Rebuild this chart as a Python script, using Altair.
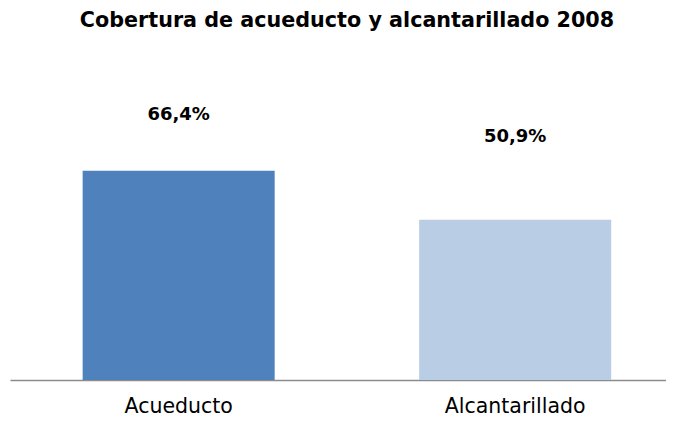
import altair as alt
import pandas as pd

categories = ["Acueducto", "Alcantarillado"]
values = [66.4, 50.9]
labels = ["66,4%", "50,9%"]
colors = ["#4F81BD", "#B9CDE5"]

df = pd.DataFrame({"cat": categories, "val": values, "label": labels})

FONT = "DejaVu Sans"

x = alt.X(
    "cat:N",
    sort=categories,
    scale=alt.Scale(paddingInner=0.4294, paddingOuter=0.1894, align=0.57),
    axis=alt.Axis(
        title=None, labelAngle=0, ticks=False, domainColor="#8C8C8C", domainWidth=1.5,
        labelFont=FONT, labelFontSize=20.5, labelColor="#000000",
        labelBaseline="alphabetic", labelPadding=32,
    ),
)
y = alt.Y("val:Q", scale=alt.Scale(domain=[0, 100]), axis=None)

base = alt.Chart(df)
bars = base.mark_bar().encode(
    x=x, y=y,
    color=alt.Color("cat:N", scale=alt.Scale(domain=categories, range=colors), legend=None),
)
t1 = base.transform_filter(alt.datum.cat == "Acueducto").mark_text(
    dy=-51, baseline="alphabetic", font=FONT, fontWeight="bold", fontSize=18, color="#000000"
).encode(x=x, y=y, text="label:N")
t2 = base.transform_filter(alt.datum.cat == "Alcantarillado").mark_text(
    dy=-78, baseline="alphabetic", font=FONT, fontWeight="bold", fontSize=18, color="#000000"
).encode(x=x, y=y, text="label:N")

chart = alt.layer(bars, t1, t2).properties(
    width=656, height=315,
    title=alt.TitleParams(
        "Cobertura de acueducto y alcantarillado 2008",
        font=FONT, fontSize=20.7, fontWeight="bold", color="#000000",
        offset=33, anchor="middle", dx=9,
    ),
    autosize=alt.AutoSizeParams(type="none"),
    padding={"left": 2, "top": 57, "right": 0, "bottom": 37},
).configure_view(stroke=None)

chart.save("out.html", embed_options={"renderer": "svg", "actions": False})
